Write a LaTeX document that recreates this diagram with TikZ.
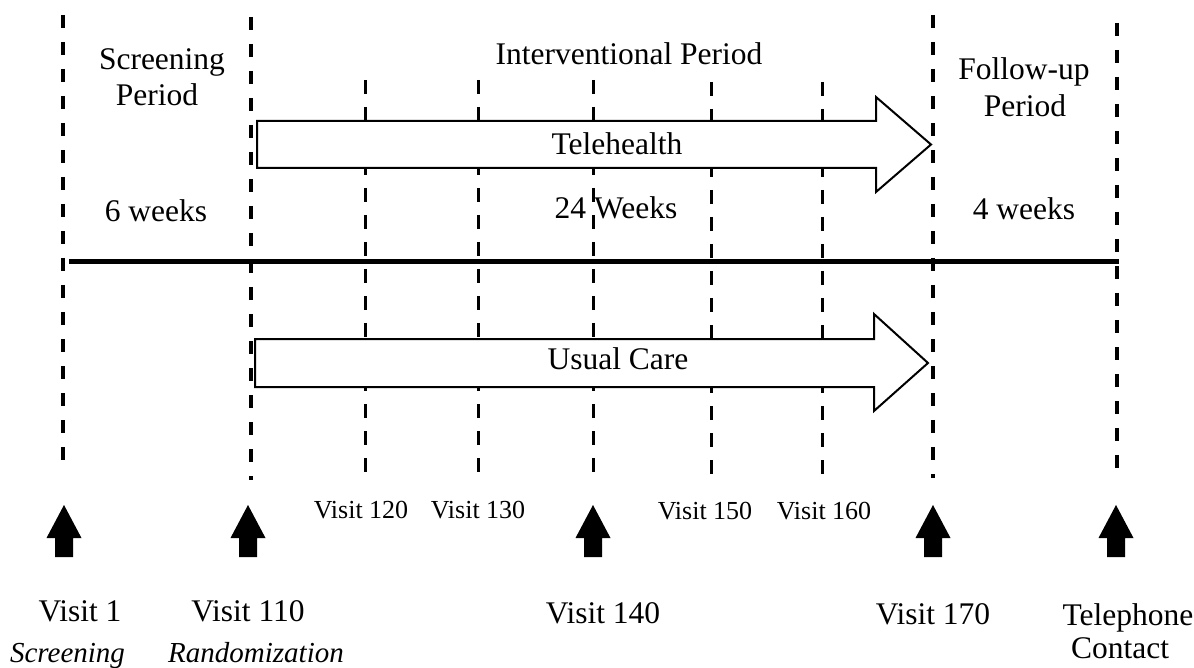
\documentclass[tikz,border=0pt]{standalone}
\usepackage{fontspec}
\setmainfont{Liberation Serif}
\tikzset{
  majorline/.style={line width=4pt, dash pattern=on 13pt off 14pt},
  minorline/.style={line width=3pt, dash pattern=on 14pt off 13pt},
  timeline/.style={line width=5pt},
  bigarrow/.style={draw=black, line width=2pt, fill=white, line join=miter},
  lbl/.style={inner sep=0pt, anchor=base, font=\fontsize{31.5}{37}\selectfont},
  smalllbl/.style={inner sep=0pt, anchor=base, font=\fontsize{26}{30}\selectfont},
  itallbl/.style={inner sep=0pt, anchor=base, font=\fontsize{29}{34}\selectfont\itshape},
  uparr/.pic={\fill[black] (0,0) -- (17.5,33) -- (9,33) -- (9,52) -- (-9,52) -- (-9,33) -- (-17.5,33) -- cycle;}
}
\begin{document}
\begin{tikzpicture}[x=1pt,y=-1pt]
\useasboundingbox (0,0) rectangle (1194,668);
% major dashed lines
\coordinate (v1t) at (63,15);     \coordinate (v1b) at (63,464);
\coordinate (v110t) at (251,17);  \coordinate (v110b) at (251,480);
\coordinate (v170t) at (933,15);  \coordinate (v170b) at (933,478);
\coordinate (telt) at (1117,23);  \coordinate (telb) at (1117,468);
\draw[majorline] (v1t) -- (v1b);
\draw[majorline] (v110t) -- (v110b);
\draw[majorline] (v170t) -- (v170b);
\draw[majorline] (telt) -- (telb);
% minor dashed lines
\coordinate (v120t) at (365,80); \coordinate (v120b) at (365,477);
\coordinate (v130t) at (478,80); \coordinate (v130b) at (478,477);
\coordinate (v140t) at (593,80); \coordinate (v140b) at (593,477);
\coordinate (v150t) at (711,82); \coordinate (v150b) at (711,477);
\coordinate (v160t) at (822,82); \coordinate (v160b) at (822,477);
\draw[minorline] (v120t) -- (v120b);
\draw[minorline] (v130t) -- (v130b);
\draw[minorline] (v140t) -- (v140b);
\draw[minorline] (v150t) -- (v150b);
\draw[minorline] (v160t) -- (v160b);
% timeline
\coordinate (tl0) at (69,262); \coordinate (tl1) at (1119,262);
\draw[timeline] (tl0) -- (tl1);
% big arrows
\draw[bigarrow] (257,121) -- (876,121) -- (876,97) -- (931,144.5) -- (876,192) -- (876,168) -- (257,168) -- cycle;
\draw[bigarrow] (255,339) -- (874,339) -- (874,314) -- (928,363) -- (874,411) -- (874,387) -- (255,387) -- cycle;
% up arrows
\pic at (64,505) {uparr};
\pic at (248,505) {uparr};
\pic at (593,505) {uparr};
\pic at (933,505) {uparr};
\pic at (1116,505) {uparr};
% texts
\node[lbl] (scr1) at (162,70) {Screening};
\node[lbl] (scr2) at (157,106) {Period};
\node[lbl] (w6) at (156,222) {6 weeks};
\node[lbl] (ip) at (629,65) {Interventional Period};
\node[lbl] (fu1) at (1024,80) {Follow-up};
\node[lbl] (fu2) at (1025,117) {Period};
\node[lbl] (w4) at (1024,220) {4 weeks};
\node[lbl] (th) at (617,155) {Telehealth};
\node[lbl] (w24) at (616,219) {24 Weeks};
\node[lbl] (uc) at (618,369) {Usual Care};
\node[smalllbl] (l120) at (361,518) {Visit 120};
\node[smalllbl] (l130) at (478,518) {Visit 130};
\node[smalllbl] (l150) at (705,519) {Visit 150};
\node[smalllbl] (l160) at (824,519) {Visit 160};
\node[lbl] (l1) at (80,621) {Visit 1};
\node[itallbl] (l1s) at (67.5,662) {Screening};
\node[lbl] (l110) at (248,621) {Visit 110};
\node[itallbl] (l110s) at (256,662) {Randomization};
\node[lbl] (l140) at (603,623) {Visit 140};
\node[lbl] (l170) at (933,624) {Visit 170};
\node[lbl] (ltel) at (1128,625) {Telephone};
\node[lbl] (lcon) at (1120,658) {Contact};
\end{tikzpicture}
\end{document}
